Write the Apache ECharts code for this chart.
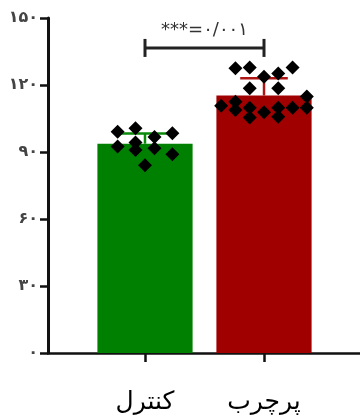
<!DOCTYPE html>
<html>
<head>
<meta charset="utf-8">
<script src="https://cdn.jsdelivr.net/npm/echarts@6/dist/echarts.min.js"></script>
<style>
html,body{margin:0;padding:0;background:#fff;}
#c{width:360px;height:419px;}
</style>
</head>
<body>
<div id="c"></div>
<script>
// ---- data ----
const categories = ['کنترل', 'پرچرب'];
const means = [93.7, 115.3];
const sds = [4.6, 7.7];
const yTickLabels = ['۰', '۳۰', '۶۰', '۹۰', '۱۲۰', '۱۵۰'];
const sigLabel = '***=۰/۰۰۱';
const sigLevel = 136.6;
const sigLabelLevel = 144.6;
// individual points: [jitter offset within category, value]
const controlJitter = [-0.23, -0.08, 0.08, 0.23, -0.23, -0.08, -0.08, 0.08, 0.23, 0];
const controlValues = [99.1, 100.6, 96.7, 98.4, 92.5, 94.3, 90.9, 91.7, 89.0, 84.1];
const highFatJitter = [-0.24, -0.12, 0, 0.12, 0.24, -0.12, 0.12, -0.36, -0.24, -0.24, -0.12, -0.12, 0, 0.12, 0.12, 0.24, 0.36, 0.36];
const highFatValues = [127.5, 127.8, 123.7, 125.2, 127.8, 118.5, 118.5, 110.7, 112.5, 108.8, 109.8, 105.4, 107.8, 109.8, 105.8, 109.8, 114.8, 109.8];

const barColors = ['#008000', '#a00000'];
const errColors = ['#0a8a0a', '#b01515'];

const chart = echarts.init(document.getElementById('c'), null, {renderer: 'canvas'});

const dots = [];
controlValues.forEach((v, i) => dots.push([0 + controlJitter[i], v]));
highFatValues.forEach((v, i) => dots.push([1 + highFatJitter[i], v]));

const arabicFont = '"DejaVu Sans", "Noto Sans", sans-serif';

chart.setOption({
  animation: false,
  grid: [
    {left: 48, right: 0, top: 18, bottom: 66},
    {left: 85.5, right: 36.5, top: 18, bottom: 66}
  ],
  xAxis: [
    {gridIndex: 0, type: 'value', min: 0, max: 1,
     axisLine: {show: true, lineStyle: {color: '#111', width: 2.5}},
     axisTick: {show: false}, axisLabel: {show: false}, splitLine: {show: false}},
    {gridIndex: 1, type: 'category', data: categories,
     axisLine: {show: false},
     axisTick: {show: true, alignWithLabel: true, length: 9, lineStyle: {color: '#111', width: 2.5}},
     axisLabel: {show: true, margin: 37, fontSize: 25, color: '#000', fontFamily: arabicFont},
     splitLine: {show: false}},
    {gridIndex: 1, type: 'value', min: -0.5, max: 1.5, show: false}
  ],
  yAxis: [
    {gridIndex: 0, type: 'value', min: 0, max: 150, interval: 30,
     axisLine: {show: true, lineStyle: {color: '#111', width: 3}},
     axisTick: {show: true, length: 8, lineStyle: {color: '#111', width: 2.5}},
     axisLabel: {margin: 10, fontSize: 16, fontWeight: 'bold', color: '#444', fontFamily: arabicFont,
       formatter: (v) => yTickLabels[Math.round(v / 30)]},
     splitLine: {show: false}},
    {gridIndex: 1, type: 'value', min: 0, max: 150, show: false}
  ],
  series: [
    {type: 'bar', xAxisIndex: 1, yAxisIndex: 1, barWidth: '80%',
     data: means.map((m, i) => ({value: m, itemStyle: {color: barColors[i]}})),
     z: 2},
    {type: 'custom', xAxisIndex: 1, yAxisIndex: 1, z: 3,
     data: means.map((m, i) => [i, m, sds[i]]),
     renderItem: function (params, api) {
       const idx = api.value(0), m = api.value(1), sd = api.value(2);
       const base = api.coord([idx, m]);
       const top = api.coord([idx, m + sd]);
       const hw = api.size([1, 0])[0] * 0.2;
       const col = errColors[idx];
       return {type: 'group', children: [
         {type: 'line', shape: {x1: base[0], y1: base[1], x2: top[0], y2: top[1]}, style: {stroke: col, lineWidth: 2.5}},
         {type: 'line', shape: {x1: top[0] - hw, y1: top[1], x2: top[0] + hw, y2: top[1]}, style: {stroke: col, lineWidth: 2.5}}
       ]};
     }},
    {type: 'scatter', xAxisIndex: 2, yAxisIndex: 1, symbol: 'diamond', symbolSize: 14,
     itemStyle: {color: '#000', opacity: 1}, data: dots, z: 4},
    {type: 'custom', xAxisIndex: 1, yAxisIndex: 1, z: 5,
     data: [[0, 1, sigLevel, sigLabelLevel]],
     renderItem: function (params, api) {
       const a = api.coord([api.value(0), api.value(2)]);
       const b = api.coord([api.value(1), api.value(2)]);
       const t = api.coord([0, api.value(3)]);
       const cx = (a[0] + b[0]) / 2;
       const cap = 9;
       const st = {stroke: '#222', lineWidth: 3};
       return {type: 'group', children: [
         {type: 'line', shape: {x1: a[0], y1: a[1], x2: b[0], y2: b[1]}, style: st},
         {type: 'line', shape: {x1: a[0], y1: a[1] - cap, x2: a[0], y2: a[1] + cap}, style: st},
         {type: 'line', shape: {x1: b[0], y1: b[1] - cap, x2: b[0], y2: b[1] + cap}, style: st},
         {type: 'text', style: {text: sigLabel, x: cx, y: t[1], align: 'center', verticalAlign: 'middle',
           fontSize: 18, fontFamily: arabicFont, fill: '#333'}}
       ]};
     }}
  ]
});
</script>
</body>
</html>
